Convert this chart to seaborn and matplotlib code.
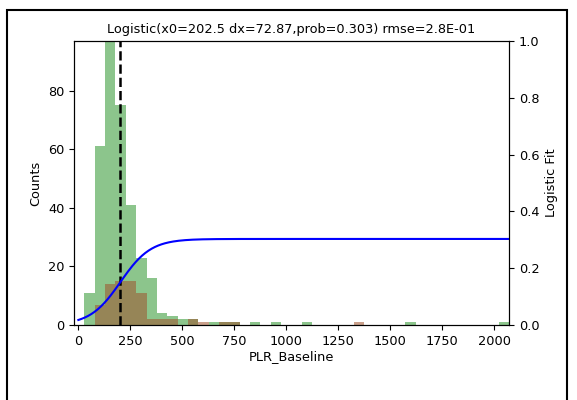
import numpy as np
import pandas as pd
import seaborn as sns
import matplotlib
matplotlib.use("Agg")
import matplotlib.pyplot as plt
from matplotlib.patches import Rectangle

# Histogram bins (PLR_Baseline) and per-bin counts for the two groups
bin_edges = np.linspace(-21, 2071, 43)
counts_neg = [0, 11, 61, 97, 75, 41, 23, 16, 4, 3, 2, 2, 0, 1, 1, 1, 0, 1, 0, 1, 0,
              0, 1, 0, 0, 0, 0, 0, 0, 0, 0, 0, 1, 0, 0, 0, 0, 0, 0, 0, 0, 1]
counts_pos = [0, 0, 7, 14, 15, 15, 11, 2, 2, 2, 0, 2, 1, 0, 1, 1, 0, 0, 0, 0, 0,
              0, 0, 0, 0, 0, 0, 1, 0, 0, 0, 0, 0, 0, 0, 0, 0, 0, 0, 0, 0, 0]

# Logistic fit parameters
x0 = 202.5
dx = 72.87
prob = 0.303
rmse = 0.28

centers = 0.5 * (bin_edges[:-1] + bin_edges[1:])
hist_df = pd.DataFrame({"PLR_Baseline": centers, "neg": counts_neg, "pos": counts_pos})

plt.rcParams["font.family"] = ["DejaVu Sans"]
plt.rcParams["font.size"] = 9.3

fig = plt.figure(figsize=(5.77, 4.0), dpi=100)
# Frame around the whole figure
fig.patches.append(Rectangle((7 / 577, -5 / 400), 560 / 577, 395 / 400,
                             transform=fig.transFigure, fill=False,
                             edgecolor="black", linewidth=1.5))
ax = fig.add_axes([74 / 577, 75 / 400, 435 / 577, 284 / 400])

edges_list = [float(e) for e in bin_edges]
sns.histplot(data=hist_df, x="PLR_Baseline", weights="neg", bins=edges_list,
             color="green", alpha=0.45, edgecolor="none", linewidth=0, ax=ax)
sns.histplot(data=hist_df, x="PLR_Baseline", weights="pos", bins=edges_list,
             color="sienna", alpha=0.55, edgecolor="none", linewidth=0, ax=ax)
ax.axvline(x0, color="black", linestyle="--", linewidth=1.8)

ax.set_xlim(bin_edges[0], bin_edges[-1])
ax.set_ylim(0, max(counts_neg))
ax.set_yticks([0, 20, 40, 60, 80])
ax.set_xticks([0, 250, 500, 750, 1000, 1250, 1500, 1750, 2000])
ax.set_xlabel("PLR_Baseline", labelpad=1.5)
ax.set_ylabel("Counts")
ax.set_title(f"Logistic(x0={x0} dx={dx},prob={prob}) rmse={rmse:.1E}", fontsize=9.3)

# Logistic curve on a secondary axis
ax2 = ax.twinx()
xs = np.linspace(0, bin_edges[-1], 400)
fit_df = pd.DataFrame({"x": xs, "y": prob / (1 + np.exp(-(xs - x0) / dx))})
sns.lineplot(data=fit_df, x="x", y="y", color="blue", linewidth=1.5, ax=ax2)
ax2.set_ylim(0, 1.0)
ax2.set_yticks([0.0, 0.2, 0.4, 0.6, 0.8, 1.0])
ax2.set_ylabel("Logistic Fit")
ax2.set_xlim(bin_edges[0], bin_edges[-1])

fig.savefig("out.png", dpi=100)
